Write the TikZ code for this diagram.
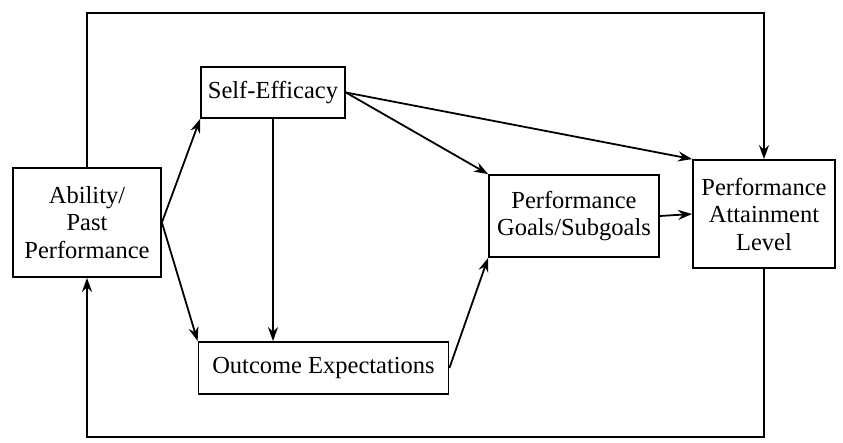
\documentclass[tikz,border=0pt]{standalone}
\usepackage{fontspec}
\setmainfont{Liberation Serif}
\usetikzlibrary{arrows.meta}
\begin{document}
\begin{tikzpicture}[x=1pt,y=-1pt,
  box/.style={draw,line width=1.8pt,inner sep=0pt,align=center,font=\fontsize{24.5}{27.5}\selectfont},
  arr/.style={line width=1.8pt,-{Stealth[length=14pt,width=10pt]}},
  ln/.style={line width=1.8pt}]
\useasboundingbox (0,0) rectangle (843,442);
\node[box,minimum width=148pt,minimum height=109pt] (abil) at (87,222.5) {Ability/\\Past\\Performance};
\node[box,minimum width=144pt,minimum height=51pt] (self) at (273,92.5) {Self-Efficacy};
\node[box,minimum width=250pt,minimum height=52pt] (outc) at (323.5,368) {Outcome Expectations};
\node[box,minimum width=170pt,minimum height=82pt] (goal) at (574,216) {Performance\\Goals/Subgoals};
\node[box,minimum width=142pt,minimum height=108pt] (att) at (764,214) {Performance\\Attainment\\Level};
\coordinate (tl) at (87,13);
\coordinate (tr) at (764,13);
\coordinate (br) at (764,437);
\coordinate (bl) at (87,437);
\draw[arr] (abil.east) -- (self.south west);
\draw[arr] (abil.east) -- (outc.north west);
\draw[arr] (self.south) -- (self.south |- outc.north);
\draw[arr] (self.east) -- (att.north west);
\draw[arr] (self.east) -- (goal.north west);
\draw[arr] (outc.east) -- (goal.south west);
\draw[arr] (goal.east) -- (att.west);
\draw[arr] (abil.north) -- (tl) -- (tr) -- (att.north);
\draw[arr] (att.south) -- (br) -- (bl) -- (abil.south);
\end{tikzpicture}
\end{document}
